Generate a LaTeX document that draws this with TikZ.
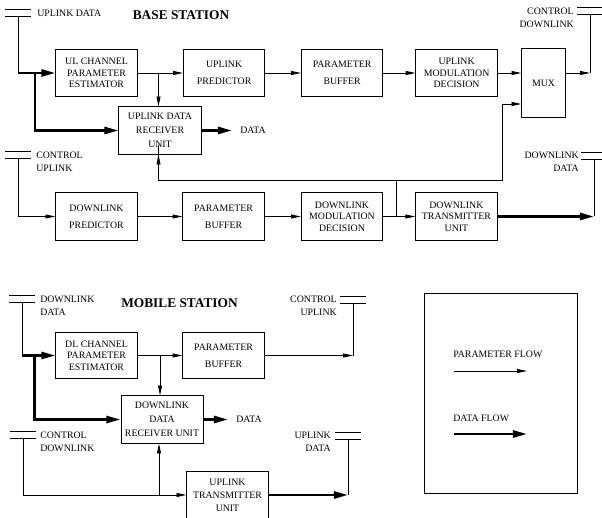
\documentclass[tikz,border=0pt]{standalone}
\usepackage{fontspec}
\setmainfont{Liberation Serif}
\usetikzlibrary{arrows.meta, positioning, calc}

\begin{document}
\begin{tikzpicture}[x=0.025cm, y=-0.025cm, font=\fontsize{7}{8.3}\selectfont]

    % Define block styles
    \tikzstyle{block} = [rectangle, draw, line width=0.7pt, minimum width=2.03cm,
        minimum height=1.18cm, align=center, inner sep=1pt]
    \tikzstyle{param} = [draw, line width=0.6pt, -{Triangle[length=7pt, width=2.8pt]}]
    \tikzstyle{data} = [draw, line width=1.8pt, -{Triangle[length=10pt, width=5pt]}]
    \tikzstyle{wire} = [draw, line width=0.6pt]
    \tikzstyle{txt} = [inner sep=0pt, font=\fontsize{7}{9}\selectfont]
    \tikzstyle{heading} = [inner sep=0pt, font=\fontsize{9.5}{11}\selectfont\bfseries]

    \useasboundingbox (0,0) rectangle (602,517);

    % Antennas (foot x, lower line y, name)
    \foreach \x/\y/\n in {18/16/a1, 590/14/a2, 18/158/a3, 594/159/a4,
                          22/302/a5, 353/303/a6, 23/438/a7, 348/439/a8} {
        \draw[line width=0.6pt] (\x-13,\y-7) -- +(26,0) (\x-13,\y) -- +(26,0);
        \coordinate (\n) at (\x,\y);
    }

    % Headings and labels
    \node [heading] (bs) at (181,15) {BASE STATION};
    \node [heading] (ms) at (179.5,303) {MOBILE STATION};
    \node [txt, anchor=west] at (37,13) {UPLINK DATA};
    \node [txt, anchor=east, align=right] at (574,18) {CONTROL\\DOWNLINK};
    \node [txt, anchor=west, align=left] at (36,161.5) {CONTROL\\UPLINK};
    \node [txt, anchor=east, align=right] at (579,161.5) {DOWNLINK\\DATA};
    \node [txt, anchor=west, align=left] at (40,305.5) {DOWNLINK\\DATA};
    \node [txt, anchor=east, align=right] at (337,306) {CONTROL\\UPLINK};
    \node [txt, anchor=west, align=left] at (40,441.5) {CONTROL\\DOWNLINK};
    \node [txt, anchor=east, align=right] at (331,441.5) {UPLINK\\DATA};

    % Base station blocks
    \node [block] (ulest) at (96.5,73) {UL CHANNEL\\PARAMETER\\ESTIMATOR};
    \node [block, right of=ulest, node distance=3.19cm] (ulpred) {UPLINK\\[3.7pt]PREDICTOR};
    \node [block, right of=ulpred, node distance=2.95cm] (ulbuf) {PARAMETER\\[3.7pt]BUFFER};
    \node [block, right of=ulbuf, node distance=2.86cm] (ulmod) {UPLINK\\MODULATION\\DECISION};
    \node [block, minimum width=1.08cm, minimum height=1.7cm] (mux) at (543.5,83) {MUX};
    \node [block, minimum width=2.05cm] (ulrx) at (160,130.5) {UPLINK DATA\\[1.5pt]RECEIVER\\[1.5pt]UNIT};
    \node [txt, anchor=west] (uldata) at (240,130.5) {DATA};

    \node [block] (dlpred) at (96.5,216.5) {DOWNLINK\\[3.7pt]PREDICTOR};
    \node [block, right of=dlpred, node distance=3.175cm] (dlbuf) {PARAMETER\\[3.7pt]BUFFER};
    \node [block, right of=dlbuf, node distance=2.96cm] (dlmod) {DOWNLINK\\MODULATION\\DECISION};
    \node [block, right of=dlmod, node distance=2.86cm] (dltx) {DOWNLINK\\TRANSMITTER\\UNIT};

    % Mobile station blocks
    \node [block, minimum height=1.15cm] (dlest) at (96.5,355.5) {DL CHANNEL\\PARAMETER\\ESTIMATOR};
    \node [block, minimum height=1.15cm, right of=dlest, node distance=3.175cm] (msbuf) {PARAMETER\\[3.7pt]BUFFER};
    \node [block, minimum width=2.05cm] (dlrx) at (162,419.5) {DOWNLINK\\[1.5pt]DATA\\[1.5pt]RECEIVER UNIT};
    \node [txt, anchor=west] (dldata) at (236,419.5) {DATA};
    \node [block] (ultx) at (227.5,495) {UPLINK\\[1pt]TRANSMITTER\\[1pt]UNIT};

    % Legend
    \node [draw, line width=0.7pt, minimum width=3.8cm, minimum height=4.98cm] (legend) at (501,393.5) {};
    \node [txt, anchor=west] (pflow) at (453,354) {PARAMETER FLOW};
    \node [txt, anchor=west] (dflow) at (453,418) {DATA FLOW};
    \coordinate (pf1) at (454,371);
    \coordinate (pf2) at (527,371);
    \coordinate (df1) at (454,434);
    \coordinate (df2) at (527,434);
    \path [param] (pf1) -- (pf2);
    \path [data] (df1) -- (df2);

    % Base station uplink edges
    \path [wire] (a1) -- (a1 |- ulest.west);
    \path [data] (a1 |- ulest.west) -- (ulest.west);
    \coordinate (ulsplit) at ($(a1 |- ulest.west)!0.45!(ulest.west)$);
    \path [data] (ulsplit) |- (ulrx.west);
    \coordinate (ulbranch) at ($(ulest.east)!0.46!(ulpred.west)$);
    \path [param] (ulest) -- (ulpred);
    \path [param] (ulbranch) -- (ulbranch |- ulrx.north);
    \path [param] (ulpred) -- (ulbuf);
    \path [param] (ulbuf) -- (ulmod);
    \path [param] (ulmod) -- (ulmod -| mux.west);
    \coordinate (a2foot) at (a2 |- ulmod);
    \path [param] (ulmod -| mux.east) -- (a2foot);
    \path [wire] (a2foot) -- (a2);
    \path [data, shorten >=0.2cm] (ulrx) -- (ulrx -| uldata.west);

    % Base station downlink edges
    \path [param] (a3) |- (dlpred);
    \path [param] (dlpred) -- (dlbuf);
    \path [param] (dlbuf) -- (dlmod);
    \path [param] (dlmod) -- (dltx);
    \coordinate (dlbranch) at ($(dlmod.east)!0.4!(dltx.west)$);
    \coordinate (fb) at (dlbranch |- 0,180);
    \coordinate (muxin) at (502,104);
    \path [wire] (dlbranch) -- (fb);
    \path [param] (fb) -| (ulbranch |- ulrx.south) -- (ulrx.south -| ulbranch);
    \path [param] (fb) -| (muxin) -- (muxin -| mux.west);
    \coordinate (a4foot) at (a4 |- dltx);
    \path [data] (dltx) -- (a4foot);
    \path [wire] (a4foot) -- (a4);

    % Mobile station edges
    \path [wire] (a5) -- (a5 |- dlest);
    \path [data] (a5 |- dlest) -- (dlest);
    \coordinate (dlsplit) at ($(a5 |- dlest)!0.38!(dlest.west)$);
    \path [data] (dlsplit) |- (dlrx);
    \coordinate (msbranch) at ($(dlest.east)!0.5!(msbuf.west)$);
    \path [param] (dlest) -- (msbuf);
    \path [param] (msbranch) -- (msbranch |- dlrx.north);
    \coordinate (a6foot) at (a6 |- msbuf);
    \path [param] (msbuf) -- (a6foot);
    \path [wire] (a6foot) -- (a6);
    \path [data, shorten >=0.2cm] (dlrx) -- (dlrx -| dldata.west);
    \path [param] (a7) |- (ultx);
    \coordinate (ulbranch2) at ($(dlrx |- ultx)+(-3,0)$);
    \path [param] (ulbranch2) -- (ulbranch2 |- dlrx.south);
    \coordinate (a8foot) at (a8 |- ultx);
    \path [data] (ultx) -- (a8foot);
    \path [wire] (a8foot) -- (a8);

\end{tikzpicture}
\end{document}
